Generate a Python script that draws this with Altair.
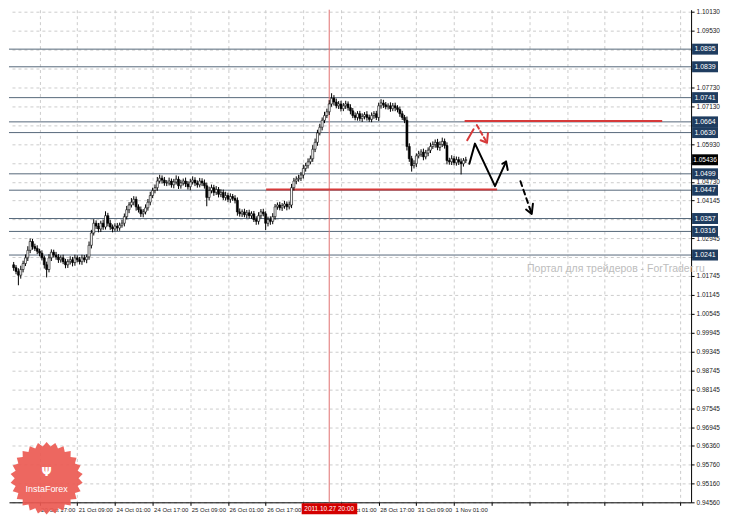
import altair as alt
import pandas as pd
import math
import json

# ---------------- data ----------------
start_idx = 5          # hourly bar index, 0 = 20 Oct 01:00
first_open = 1.0210
closes = [
    1.0201, 1.0189, 1.0177, 1.0195, 1.0214,
    1.0232, 1.0256, 1.0284, 1.0268,
    1.0262, 1.0253, 1.0247, 1.0232,
    1.0210, 1.0195,
    1.0232, 1.0250, 1.0241, 1.0235,
    1.0226, 1.0232, 1.0220, 1.0210, 1.0220, 1.0226, 1.0217, 1.0232, 1.0226, 1.0220, 1.0232, 1.0226, 1.0235,
    1.0272, 1.0311, 1.0342,
    1.0333, 1.0324, 1.0342, 1.0330, 1.0366, 1.0342,
    1.0330, 1.0324, 1.0333, 1.0327, 1.0336, 1.0342, 1.0363,
    1.0385, 1.0400, 1.0409, 1.0418, 1.0394,
    1.0385, 1.0372, 1.0378, 1.0391,
    1.0409, 1.0430, 1.0446, 1.0455,
    1.0476, 1.0485, 1.0479, 1.0470,
    1.0470, 1.0476, 1.0464, 1.0473, 1.0482, 1.0461, 1.0470, 1.0476, 1.0467, 1.0458, 1.0473, 1.0479, 1.0470, 1.0464, 1.0476, 1.0470, 1.0461,
    1.0424,
    1.0446, 1.0455, 1.0440, 1.0449, 1.0434, 1.0440,
    1.0424, 1.0430, 1.0418, 1.0427, 1.0421, 1.0415,
    1.0378,
    1.0372, 1.0378, 1.0369, 1.0375, 1.0366, 1.0372,
    1.0354, 1.0348,
    1.0366, 1.0378, 1.0372,
    1.0342,
    1.0354, 1.0348, 1.0363,
    1.0394, 1.0400, 1.0391, 1.0397, 1.0403, 1.0394, 1.0400,
    1.0455,
    1.0476, 1.0482, 1.0485, 1.0495,
    1.0516, 1.0525, 1.0537, 1.0547,
    1.0577, 1.0599, 1.0629, 1.0647,
    1.0669, 1.0684, 1.0696,
    1.0721, 1.0739,
    1.0727, 1.0715, 1.0721, 1.0706, 1.0715, 1.0721, 1.0709, 1.0699,
    1.0684, 1.0678, 1.0690, 1.0675, 1.0681, 1.0687, 1.0678, 1.0672, 1.0684, 1.0690, 1.0678,
    1.0715, 1.0724,
    1.0718, 1.0712, 1.0715, 1.0706, 1.0715, 1.0709, 1.0703,
    1.0690, 1.0678, 1.0669,
    1.0586,
    1.0547, 1.0525, 1.0531,
    1.0556, 1.0562, 1.0568, 1.0553, 1.0565, 1.0574,
    1.0586, 1.0592, 1.0599, 1.0583, 1.0592, 1.0602, 1.0589,
    1.0541,
    1.0537, 1.0547, 1.0534, 1.0544, 1.0537, 1.0531, 1.0541, 1.0544,
]
# upper / lower shadows in pips
wick_up = [
    9, 8, 10, 12, 9, 11, 13, 10, 8, 9, 10, 8, 9, 7, 10, 12, 9, 8, 10, 9,
    8, 10, 9, 8, 11, 9, 10, 8, 9, 10, 9, 8, 12, 10, 13, 9, 10, 8, 11, 14,
    9, 10, 8, 9, 10, 8, 11, 10, 12, 9, 13, 10, 9, 8, 10, 9, 11, 10, 12, 9,
    10, 13, 11, 9, 10, 9, 11, 8, 10, 12, 9, 10, 8, 11, 9, 10, 12, 9, 8, 10,
    9, 11, 10, 12, 10, 9, 11, 8, 10, 9, 12, 9, 10, 8, 10, 9, 11, 8, 10, 9,
    10, 8, 9, 10, 11, 9, 10, 8, 9, 10, 11, 9, 8, 10, 9, 10, 8, 11, 12, 10,
    9, 11, 10, 12, 9, 11, 10, 13, 12, 10, 11, 9, 12, 10, 12, 16, 10, 11, 9, 10,
    9, 10, 8, 11, 9, 10, 8, 9, 10, 8, 11, 9, 10, 8, 9, 10, 12, 10, 9, 8,
    11, 9, 10, 8, 10, 9, 8, 12, 10, 9, 11, 8, 10, 9, 11, 10, 9, 12, 10, 9,
    11, 10, 12, 9, 10, 9, 11, 8, 10, 9, 11, 8, 9,
]
wick_dn = [
    10, 9, 32, 11, 9, 8, 10, 9, 10, 8, 9, 10, 8, 12, 25, 9, 10, 8, 9, 10,
    9, 8, 11, 10, 9, 12, 10, 8, 9, 10, 8, 11, 9, 10, 8, 9, 11, 10, 9, 8,
    10, 9, 11, 8, 10, 9, 8, 10, 9, 11, 8, 10, 12, 9, 10, 11, 8, 9, 10, 8,
    9, 10, 8, 11, 9, 10, 8, 9, 11, 8, 10, 9, 8, 10, 9, 11, 8, 10, 9, 8,
    10, 9, 28, 10, 9, 11, 8, 10, 9, 8, 10, 9, 11, 8, 10, 12, 9, 10, 8, 11,
    9, 10, 8, 11, 10, 9, 8, 22, 10, 11, 9, 10, 9, 8, 10, 9, 11, 8, 10, 9,
    10, 8, 9, 11, 10, 9, 8, 10, 9, 11, 8, 10, 9, 8, 10, 9, 11, 8, 10, 9,
    8, 10, 9, 11, 8, 9, 10, 8, 11, 9, 10, 8, 9, 10, 8, 11, 9, 10, 8, 9,
    10, 8, 11, 9, 10, 8, 9, 13, 10, 19, 9, 10, 8, 9, 11, 8, 10, 9, 8, 10,
    9, 11, 8, 10, 12, 9, 10, 8, 9, 10, 34, 9, 8,
]

levels = [1.0895, 1.0839, 1.0741, 1.0664, 1.0630, 1.0499, 1.0447, 1.0357, 1.0316, 1.0241]
level_labels = ["1.0895", "1.0839", "1.0741", "1.0664", "1.0630", "1.0499", "1.0447", "1.0357", "1.0316", "1.0241"]
current_price = 1.05436
current_label = "1.05436"

y_ticks = [1.10130, 1.09530, 1.08930, 1.08330, 1.07730, 1.07130, 1.06530, 1.05930, 1.05330,
           1.04730, 1.04145, 1.03545, 1.02945, 1.02345, 1.01745, 1.01145, 1.00545, 0.99945,
           0.99345, 0.98745, 0.98145, 0.97545, 0.96945, 0.96360, 0.95760, 0.95160, 0.94560]
# tick labels that sit under a price box in the picture
y_hidden = [y_ticks[2], y_ticks[3], y_ticks[6], y_ticks[8], y_ticks[11], y_ticks[13]]
x_ticks = list(range(16, 289, 16))
x_tick_labels = ["20 Oct 01:00", "20 Oct 17:00", "21 Oct 09:00", "24 Oct 01:00", "24 Oct 17:00",
                 "25 Oct 09:00", "26 Oct 01:00", "26 Oct 17:00", "", "28 Oct 01:00",
                 "28 Oct 17:00", "31 Oct 09:00", "1 Nov 01:00"]

cross_idx = 139
cross_label = "2011.10.27 20:00"
cross_box = [127.3, 150.9]

red_upper = {"price": 1.0667, "x1": 196.5, "x2": 280.4}
red_lower = {"price": 1.0449, "x1": 112.2, "x2": 210.3}

zig_idx = [198.5, 200.9, 209.4, 214.1]
zig_price = [1.0531, 1.0595, 1.0460, 1.0538]
zig_head_idx = [212.5, 214.1, 214.8]
zig_head_price = [1.0531, 1.0538, 1.0511]
dash_idx = [220.2, 225.0]
dash_price = [1.04754, 1.03715]
dash_head_idx = [222.6, 225.0, 225.5]
dash_head_price = [1.03855, 1.03715, 1.04039]
red_up_idx = [197.6, 200.3]
red_up_price = [1.06056, 1.06404]
red_dn_idx = [201.7, 206.0]
red_dn_price = [1.06536, 1.05976]
red_head_idx = [203.3, 206.0, 206.4]
red_head_price = [1.06056, 1.05976, 1.06282]

logo_pos = (19.0, 0.95319)
logo_text_pos = (19.0, 0.94983)
logo_icon_pos = (19.0, 0.95520)
watermark = "Портал для трейдеров - ForTrader.ru"
watermark_pos = (223.0, 1.01951)

# ---------------- layout ----------------
Y_MIN, Y_MAX = 0.94555, 1.10203
X_MIN, X_MAX = 5.13, 290.55
W, H = 684, 494
FONT = "Liberation Sans, Arial, sans-serif"

xs = alt.Scale(domain=[X_MIN, X_MAX], nice=False, zero=False)
ys = alt.Scale(domain=[Y_MIN, Y_MAX], nice=False, zero=False)

x_label_expr = ("datum.value <= 192 ? " + json.dumps(x_tick_labels) +
                "[round(datum.value / 16)] : ''")
y_label_expr = ("indexof(" + json.dumps(y_hidden) + ", datum.value) >= 0 ? '' : "
                "format(datum.value, '.5f')")
x_axis = alt.Axis(values=x_ticks, labelExpr=x_label_expr, labelAlign="left", labelFontSize=6,
                  labelFont=FONT, labelColor="#222", labelPadding=1, labelOffset=1,
                  tickSize=3, tickColor="#000", domainColor="#000", grid=True,
                  gridColor="#cccccc", gridDash=[3, 3], labelFlush=False, labelOverlap=False,
                  title=None)
y_axis = alt.Axis(orient="right", values=y_ticks, labelExpr=y_label_expr, labelFontSize=6.5,
                  labelFont=FONT, labelColor="#222", labelPadding=2, tickSize=3, tickColor="#000",
                  domainColor="#000", grid=True, gridColor="#cccccc", gridDash=[3, 3],
                  labelOverlap=False, labelFlush=False, title=None)


def X(f):
    return alt.X(f, type="quantitative", scale=xs, axis=x_axis)


def Y(f):
    return alt.Y(f, type="quantitative", scale=ys, axis=y_axis)


# candles table
rows = []
prev = first_open
for k, (c, wu, wd) in enumerate(zip(closes, wick_up, wick_dn)):
    o = prev
    lo_b, hi_b = min(o, c), max(o, c)
    if hi_b - lo_b < 0.00005:
        hi_b = lo_b + 0.00005
    rows.append({"idx": start_idx + k, "o": o, "c": c, "blo": lo_b, "bhi": hi_b,
                 "hi": max(o, c) + wu * 0.0001, "lo": min(o, c) - wd * 0.0001,
                 "bull": c >= o})
    prev = c
cdf = pd.DataFrame(rows)

wicks = alt.Chart(cdf).mark_rule(color="#000", strokeWidth=1, clip=True).encode(
    x=X("idx"), y=Y("lo"), y2="hi")
bodies = alt.Chart(cdf).mark_bar(width=2.0, clip=True, strokeWidth=0.6).encode(
    x=X("idx"), y=Y("blo"), y2="bhi",
    fill=alt.condition("datum.bull", alt.value("#ffffff"), alt.value("#000000")),
    stroke=alt.value("#000000"))

lvl_df = pd.DataFrame({"level": levels, "label": level_labels})
half = 5.5 * (Y_MAX - Y_MIN) / H
lvl_df["blo"] = lvl_df["level"] - half
lvl_df["bhi"] = lvl_df["level"] + half

level_lines = alt.Chart(lvl_df).mark_rule(color="#56687a", strokeWidth=1).encode(y=Y("level"))

cross = alt.Chart(pd.DataFrame({"idx": [cross_idx]})).mark_rule(
    color="#e07070", strokeWidth=1).encode(x=X("idx"))

red_df = pd.DataFrame([red_upper, red_lower])
red_lines = alt.Chart(red_df).mark_rule(color="#d63a3a", strokeWidth=2).encode(
    x=X("x1"), x2="x2", y=Y("price"))


def path_df(pairs):
    out = []
    for g, (xi, yi) in enumerate(pairs):
        for j, (a, b) in enumerate(zip(xi, yi)):
            out.append({"g": g, "ord": j, "idx": a, "p": b})
    return pd.DataFrame(out)


def path_chart(pairs, color, dash=None, sw=2):
    kw = dict(color=color, strokeWidth=sw, strokeCap="round", strokeJoin="round")
    if dash:
        kw["strokeDash"] = dash
    return alt.Chart(path_df(pairs)).mark_line(**kw).encode(
        x=X("idx"), y=Y("p"), detail="g:N", order="ord:Q")


black_solid = path_chart([(zig_idx, zig_price), (zig_head_idx, zig_head_price),
                          (dash_head_idx, dash_head_price)], "#000000")
black_dash = path_chart([(dash_idx, dash_price)], "#000000", dash=[5, 4])
red_solid = path_chart([(red_up_idx, red_up_price), (red_head_idx, red_head_price)], "#d63a3a")
red_dash = path_chart([(red_dn_idx, red_dn_price)], "#d63a3a", dash=[4, 3])

# InstaForex badge
n = 26
pts = []
for k in range(2 * n):
    r = 1.0 if k % 2 == 0 else 0.88
    a = math.pi * k / n
    pts.append(f"{r * math.sin(a):.4f},{-r * math.cos(a):.4f}")
star = "M" + " L".join(pts) + " Z"
badge = alt.Chart(pd.DataFrame({"idx": [logo_pos[0]], "p": [logo_pos[1]]})).mark_point(
    shape=star, filled=True, size=5300, color="#ec5a52", opacity=0.92, strokeWidth=0).encode(
    x=X("idx"), y=Y("p"))
badge_text = alt.Chart(pd.DataFrame({"idx": [logo_text_pos[0]], "p": [logo_text_pos[1]],
                                     "t": ["InstaForex"]})).mark_text(
    color="#ffffff", fontSize=9, font="Liberation Sans", align="center", baseline="middle").encode(
    x=X("idx"), y=Y("p"), text="t:N")
badge_icon = alt.Chart(pd.DataFrame({"idx": [logo_icon_pos[0]], "p": [logo_icon_pos[1]],
                                     "t": ["Ψ"]})).mark_text(
    color="#ffffff", fontSize=12, font="DejaVu Sans", fontWeight="bold", align="center",
    baseline="middle").encode(x=X("idx"), y=Y("p"), text="t:N")

wm = alt.Chart(pd.DataFrame({"idx": [watermark_pos[0]], "p": [watermark_pos[1]],
                             "t": [watermark]})).mark_text(
    color="#bdbdbd", fontSize=10.5, font="Liberation Sans", align="left", baseline="middle").encode(
    x=X("idx"), y=Y("p"), text="t:N")

# right-hand price boxes
lvl_boxes = alt.Chart(lvl_df).mark_rect(color="#1f3d60").encode(
    x=alt.value(W + 1), x2=alt.value(W + 27), y=Y("blo"), y2="bhi")
lvl_text = alt.Chart(lvl_df).mark_text(color="#ffffff", fontSize=7, font=FONT, align="center",
                                       baseline="middle").encode(
    x=alt.value(W + 14), y=Y("level"), text="label:N")
cur_df = pd.DataFrame({"level": [current_price], "label": [current_label],
                       "blo": [current_price - half], "bhi": [current_price + half]})
cur_box = alt.Chart(cur_df).mark_rect(color="#000000").encode(
    x=alt.value(W + 1), x2=alt.value(W + 27), y=Y("blo"), y2="bhi")
cur_text = alt.Chart(cur_df).mark_text(color="#ffffff", fontSize=6.5, font=FONT, align="center",
                                       baseline="middle").encode(
    x=alt.value(W + 14), y=Y("level"), text="label:N")

# crosshair time label at the bottom
cb_df = pd.DataFrame({"x1": [cross_box[0]], "x2": [cross_box[1]], "idx": [cross_idx],
                      "t": [cross_label]})
cross_box_m = alt.Chart(cb_df).mark_rect(color="#d40000").encode(
    x=X("x1"), x2="x2", y=alt.value(H + 1), y2=alt.value(H + 12))
cross_text = alt.Chart(cb_df).mark_text(color="#ffffff", fontSize=6.5, font=FONT, align="center",
                                        baseline="middle").encode(
    x=X("idx"), y=alt.value(H + 6.5), text="t:N")

chart = alt.layer(
    level_lines, cross, wm, red_lines, wicks, bodies,
    black_solid, black_dash, red_solid, red_dash,
    badge, badge_icon, badge_text,
    lvl_boxes, lvl_text, cur_box, cur_text, cross_box_m, cross_text,
).properties(width=W, height=H, padding={"left": 0, "top": 0, "right": 2, "bottom": 0},
             background="#ffffff").configure_view(strokeWidth=0)

chart.save("out.html", embed_options={"renderer": "svg", "actions": False})
